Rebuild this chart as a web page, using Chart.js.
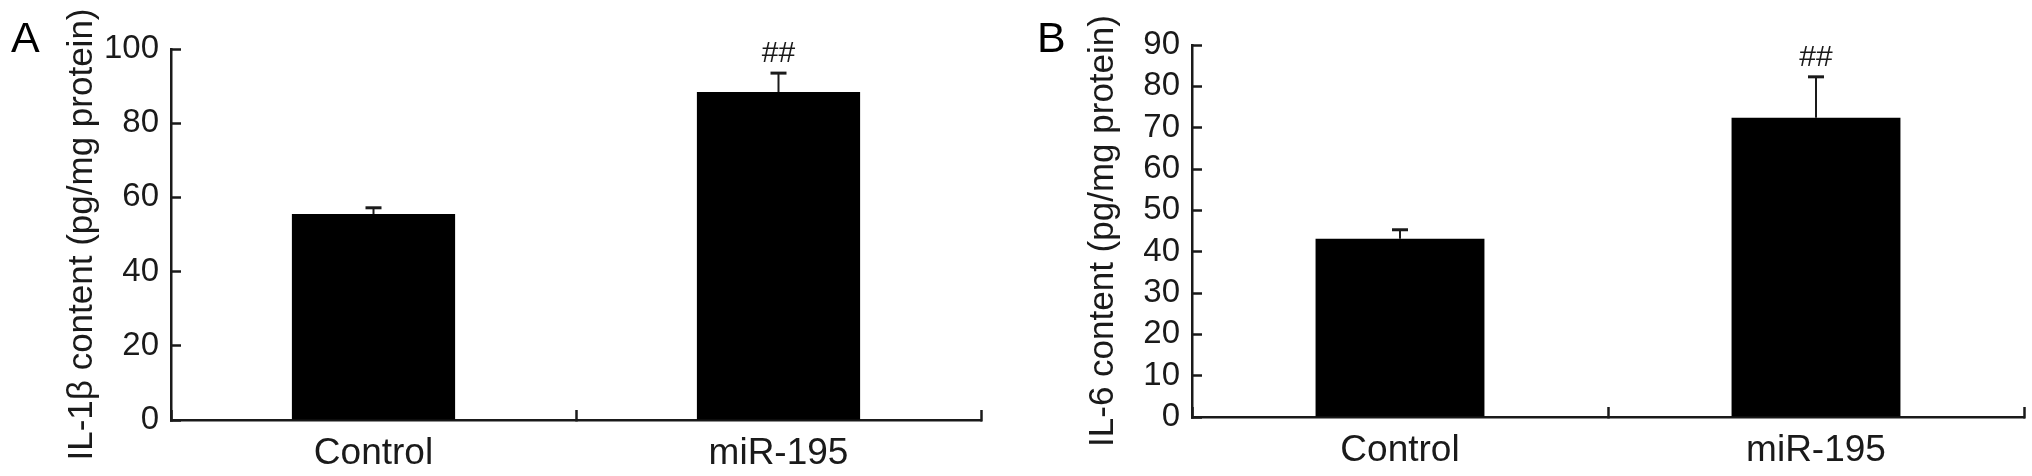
<!DOCTYPE html>
<html>
<head>
<meta charset="utf-8">
<script src="https://cdn.jsdelivr.net/npm/chart.js@4.4.0/dist/chart.umd.min.js"></script>
<style>
    html, body { margin: 0; padding: 0; background: #fff; }
    #wrap { position: relative; width: 2032px; height: 476px; }
    .panel { position: absolute; top: 0; width: 1016px; height: 476px; }
</style>
</head>
<body>
<div id="wrap">
    <div class="panel" style="left:0"><canvas id="chartA" width="1016" height="476"></canvas></div>
    <div class="panel" style="left:1016px"><canvas id="chartB" width="1016" height="476"></canvas></div>
</div>
<script>
// data
const groups = ['Control', 'miR-195'];
const il1bMean = [55.5, 88.4];
const il1bErr = [1.7, 5.1];
const il6Mean = [43.1, 72.4];
const il6Err = [2.2, 9.9];
const sigMarks = ['', '##'];

const FONT = "'Liberation Sans', Arial, Helvetica, sans-serif";
const INK = '#1a1a1a';

// upward error bars + significance marks, placed with the chart's own scales
const errorBarPlugin = {
    id: 'errorBars',
    afterDatasetsDraw(chart, args, opts) {
        const {ctx, scales: {y}} = chart;
        const meta = chart.getDatasetMeta(0);
        ctx.save();
        ctx.strokeStyle = INK;
        meta.data.forEach((bar, i) => {
            const top = y.getPixelForValue(opts.mean[i] + opts.err[i]);
            ctx.lineWidth = 2;
            ctx.beginPath();
            ctx.moveTo(bar.x, bar.y);
            ctx.lineTo(bar.x, top);
            ctx.stroke();
            ctx.lineWidth = 3;
            ctx.beginPath();
            ctx.moveTo(bar.x - 8, top);
            ctx.lineTo(bar.x + 8, top);
            ctx.stroke();
            if (opts.marks[i]) {
                ctx.fillStyle = INK;
                ctx.font = `30px ${FONT}`;
                ctx.textAlign = 'center';
                ctx.textBaseline = 'middle';
                ctx.fillText(opts.marks[i], bar.x, top - 19);
            }
        });
        ctx.restore();
    }
};

const panelLetterPlugin = {
    id: 'panelLetter',
    afterDraw(chart, args, opts) {
        const ctx = chart.ctx;
        ctx.save();
        ctx.fillStyle = '#000';
        ctx.font = `43px ${FONT}`;
        ctx.textAlign = 'left';
        ctx.textBaseline = 'alphabetic';
        ctx.fillText(opts.text, opts.x, 52);
        ctx.restore();
    }
};

function makePanel(id, cfg) {
    return new Chart(document.getElementById(id), {
        type: 'bar',
        data: {
            labels: groups,
            datasets: [{
                data: cfg.mean,
                backgroundColor: '#000',
                borderWidth: 0,
                barPercentage: cfg.barPct,
                categoryPercentage: 1
            }]
        },
        options: {
            responsive: false,
            animation: false,
            layout: { padding: { left: cfg.padLeft, right: cfg.padRight, top: cfg.padTop, bottom: 0 } },
            plugins: {
                legend: { display: false },
                tooltip: { enabled: false },
                errorBars: { mean: cfg.mean, err: cfg.err, marks: sigMarks },
                panelLetter: { text: cfg.letter, x: cfg.letterX }
            },
            scales: {
                x: {
                    offset: true,
                    grid: { offset: true, drawOnChartArea: false, tickLength: -10, tickWidth: 2.5, tickColor: INK },
                    border: { color: INK, width: 2.5 },
                    ticks: { color: INK, padding: 22, font: { family: FONT, size: 37 } },
                    afterFit: s => { s.height = cfg.xHeight; }
                },
                y: {
                    min: 0,
                    max: cfg.yMax,
                    ticks: { stepSize: cfg.yStep, autoSkip: false, color: INK, padding: 22, font: { family: FONT, size: 33 } },
                    grid: { drawOnChartArea: false, tickLength: -10, tickWidth: 2.5, tickColor: INK },
                    border: { color: INK, width: 2.5 },
                    title: { display: true, text: cfg.yTitle, color: INK, padding: 0, font: { family: FONT, size: 35 } },
                    afterFit: s => { s.width = cfg.yWidth; }
                }
            }
        },
        plugins: [errorBarPlugin, panelLetterPlugin]
    });
}

makePanel('chartA', {
    letter: 'A', letterX: 11,
    mean: il1bMean, err: il1bErr, yMax: 100, yStep: 20,
    yTitle: 'IL-1β content (pg/mg protein)',
    padLeft: 61, yWidth: 110, padRight: 35, padTop: 49, xHeight: 56, barPct: 0.403
});

makePanel('chartB', {
    letter: 'B', letterX: 21,
    mean: il6Mean, err: il6Err, yMax: 90, yStep: 10,
    yTitle: 'IL-6 content (pg/mg protein)',
    padLeft: 66, yWidth: 110, padRight: 8, padTop: 45, xHeight: 59, barPct: 0.406
});
</script>
</body>
</html>
